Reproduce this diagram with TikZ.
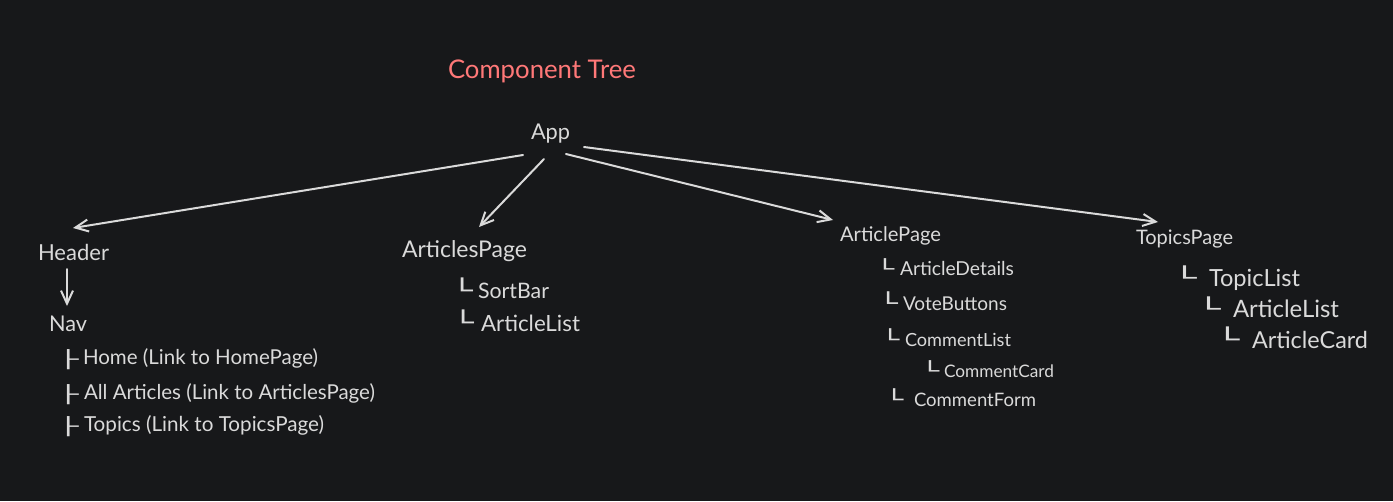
\documentclass[tikz,border=0pt]{standalone}
\usepackage{fontspec}
\usepackage{graphicx}
\setmainfont{Lato}
\newfontfamily\djv{DejaVu Sans}
\usetikzlibrary{arrows.meta}
\definecolor{bg}{RGB}{23,24,26}
\definecolor{fg}{RGB}{218,218,218}
\definecolor{ttl}{RGB}{255,120,120}
% text scaled to a given ink width (pt)
\newcommand\fitw[2]{\setbox0\hbox{\fontsize{10pt}{12pt}\selectfont #2}%
  \pgfmathsetmacro\fitfs{10*#1/\the\wd0}%
  \fontsize{\fitfs pt}{\fitfs pt}\selectfont #2}
% box-drawing glyph: #1 char, #2 em size, #3 xscale, #4 raise, #5 gap to text
\newcommand\tbox[5]{\makebox[#5pt][l]{\hspace{-\fpeval{0.263*#2*#3}pt}%
  {\djv\fontsize{#2pt}{#2pt}\selectfont\raisebox{#4pt}{\scalebox{#3}[1]{#1}}}}}
\tikzset{
  lbl/.style={text=fg, anchor=base west, inner sep=0pt, outer sep=0pt},
  arr/.style={draw=fg, line width=2pt, line cap=round,
    -{Straight Barb[length=13pt,width=12pt,line width=2pt]}},
}
\begin{document}
\begin{tikzpicture}[x=1pt,y=1pt]
\fill[bg] (0,0) rectangle (1393,-501);
\useasboundingbox (0,0) rectangle (1393,-501);

\node[lbl, text=ttl] (title) at (448,-78) {\fitw{188}{Component Tree}};
\node[lbl] (app) at (531,-139) {\fitw{39}{App}};

\node[lbl] (header) at (38,-260) {\fitw{71}{Header}};
\node[lbl] (nav) at (49,-331) {\fitw{38}{Nav}};
\node[lbl] (home) at (67,-364) {\tbox{├}{17}{2}{-1}{16}\fitw{235}{Home (Link to HomePage)}};
\node[lbl] (allart) at (67,-399) {\tbox{├}{17}{2}{-1}{17}\fitw{291}{All Articles (Link to ArticlesPage)}};
\node[lbl] (topics) at (67,-431) {\tbox{├}{17}{2}{-1}{17}\fitw{240}{Topics (Link to TopicsPage)}};

\node[lbl] (articlespage) at (402,-257) {\fitw{125}{ArticlesPage}};
\node[lbl] (sortbar) at (461,-298) {\tbox{└}{22}{1.6}{0}{17}\fitw{71}{SortBar}};
\node[lbl] (alist1) at (462,-331) {\tbox{└}{22}{1.6}{1}{19}\fitw{99}{ArticleList}};

\node[lbl] (articlepage) at (840,-241) {\fitw{101}{ArticlePage}};
\node[lbl] (details) at (884,-275) {\tbox{└}{18}{1.7}{0}{16}\fitw{114}{ArticleDetails}};
\node[lbl] (vote) at (887,-310) {\tbox{└}{20}{1.6}{0}{16}\fitw{104}{VoteButtons}};
\node[lbl] (clist) at (889,-346) {\tbox{└}{19}{1.6}{0}{16}\fitw{106}{CommentList}};
\node[lbl] (ccard) at (929,-377) {\tbox{└}{18}{1.7}{0}{15}\fitw{110}{CommentCard}};
\node[lbl] (cform) at (893,-406) {\tbox{└}{19}{1.6}{0}{21}\fitw{122}{CommentForm}};

\node[lbl] (topicspage) at (1136,-244) {\fitw{97}{TopicsPage}};
\node[lbl] (tlist) at (1183,-286) {\tbox{└}{21}{1.9}{1}{26}\fitw{91}{TopicList}};
\node[lbl] (alist2) at (1207,-317) {\tbox{└}{21}{1.9}{1}{26}\fitw{106}{ArticleList}};
\node[lbl] (acard) at (1226,-348) {\tbox{└}{22}{1.8}{1}{26}\fitw{116}{ArticleCard}};

\draw[arr] ([shift={(-8,-16)}]app.base west) -- ([shift={(35,32)}]header.base west);
\draw[arr] ([shift={(13,-20)}]app.base west) -- ([shift={(77,30)}]articlespage.base west);
\draw[arr] ([shift={(35,-15)}]app.base west) -- ([shift={(-7,21)}]articlepage.base west);
\draw[arr] ([shift={(53,-8)}]app.base west) -- ([shift={(22,22)}]topicspage.base west);
\draw[arr] ([shift={(29,-9)}]header.base west) -- ([shift={(18,25)}]nav.base west);
\end{tikzpicture}
\end{document}
